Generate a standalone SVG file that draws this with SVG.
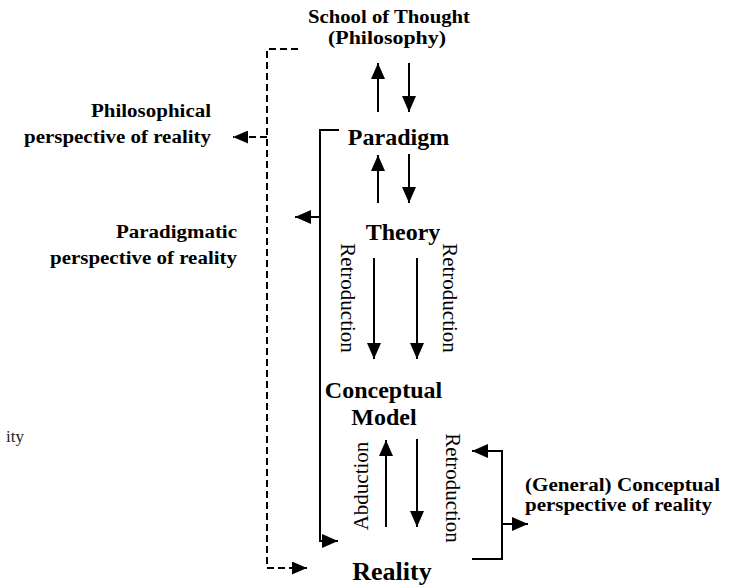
<svg xmlns="http://www.w3.org/2000/svg" width="746" height="587" viewBox="0 0 746 587">
<style>
.t{font-family:"Liberation Serif","Times New Roman",serif;fill:#000}
.main{font-weight:bold;font-size:24px}
.side{font-weight:bold;font-size:18.5px}
.vert{font-size:21px}
.ln{fill:none;stroke:#000;stroke-width:2}
.dash{fill:none;stroke:#000;stroke-width:2;stroke-dasharray:7,4}
</style>
<defs>
<marker id="ah" markerUnits="userSpaceOnUse" markerWidth="16" markerHeight="14" refX="16" refY="7" orient="auto"><path d="M0,0L16,7L0,14z" fill="#000"/></marker>
<marker id="ahs" markerUnits="userSpaceOnUse" markerWidth="15" markerHeight="13" refX="15" refY="6.5" orient="auto"><path d="M0,0L15,6.5L0,13z" fill="#000"/></marker>
</defs>
<rect width="746" height="587" fill="#fff"/>
<g id="connectors">
<path class="dash" d="M298,49H267V568H292"/>
<path class="dash" d="M292,568H307" marker-end="url(#ahs)"/>
<path class="dash" d="M267,137H233" marker-end="url(#ahs)"/>
<path class="ln" d="M378,112V63" marker-end="url(#ah)"/>
<path class="ln" d="M409,63V112" marker-end="url(#ah)"/>
<path class="ln" d="M378,203V155" marker-end="url(#ah)"/>
<path class="ln" d="M409,154V203" marker-end="url(#ah)"/>
<path class="ln" d="M374,258V359" marker-end="url(#ah)"/>
<path class="ln" d="M417,258V359" marker-end="url(#ah)"/>
<path class="ln" d="M386,527V440" marker-end="url(#ah)"/>
<path class="ln" d="M417,439V527" marker-end="url(#ah)"/>
<path class="ln" d="M339,130H320V541H338" marker-end="url(#ah)"/>
<path class="ln" d="M320,217H295" marker-end="url(#ah)"/>
<path class="ln" d="M472,559H502V451H472" marker-end="url(#ah)"/>
<path class="ln" d="M502,524H528" marker-end="url(#ah)"/>
</g>
<g id="title"><text class="t side" x="389" y="23" text-anchor="middle" textLength="162" lengthAdjust="spacingAndGlyphs">School of Thought</text><text class="t side" x="387" y="44" text-anchor="middle" textLength="118" lengthAdjust="spacingAndGlyphs">(Philosophy)</text></g>
<g id="paradigm"><text class="t main" x="398.5" y="145" text-anchor="middle">Paradigm</text></g>
<g id="theory"><text class="t main" x="403" y="240" text-anchor="middle">Theory</text></g>
<g id="conceptual-model"><text class="t main" x="383.5" y="398" text-anchor="middle">Conceptual</text><text class="t main" x="384" y="425" text-anchor="middle">Model</text></g>
<g id="reality"><text class="t main" x="392" y="580" text-anchor="middle" style="font-size:26px">Reality</text></g>
<g id="label-philosophical"><text class="t side" x="211" y="117" text-anchor="end" textLength="120" lengthAdjust="spacingAndGlyphs">Philosophical</text><text class="t side" x="211" y="143" text-anchor="end" textLength="187" lengthAdjust="spacingAndGlyphs">perspective of reality</text></g>
<g id="label-paradigmatic"><text class="t side" x="237" y="238" text-anchor="end" textLength="121" lengthAdjust="spacingAndGlyphs">Paradigmatic</text><text class="t side" x="237" y="264" text-anchor="end" textLength="187" lengthAdjust="spacingAndGlyphs">perspective of reality</text></g>
<g id="label-conceptual"><text class="t side" x="525" y="491" textLength="195" lengthAdjust="spacingAndGlyphs">(General) Conceptual</text><text class="t side" x="525" y="511" textLength="187" lengthAdjust="spacingAndGlyphs">perspective of reality</text></g>
<g id="label-ity"><text class="t" x="6" y="442" style="font-size:17px;fill:#222">ity</text></g>
<g id="edge-labels">
<text class="t vert" transform="translate(341,298) rotate(90)" text-anchor="middle">Retroduction</text>
<text class="t vert" transform="translate(443,298) rotate(90)" text-anchor="middle">Retroduction</text>
<text class="t vert" transform="translate(368,486) rotate(-90)" text-anchor="middle">Abduction</text>
<text class="t vert" transform="translate(446,488) rotate(90)" text-anchor="middle">Retroduction</text>
</g>
</svg>
